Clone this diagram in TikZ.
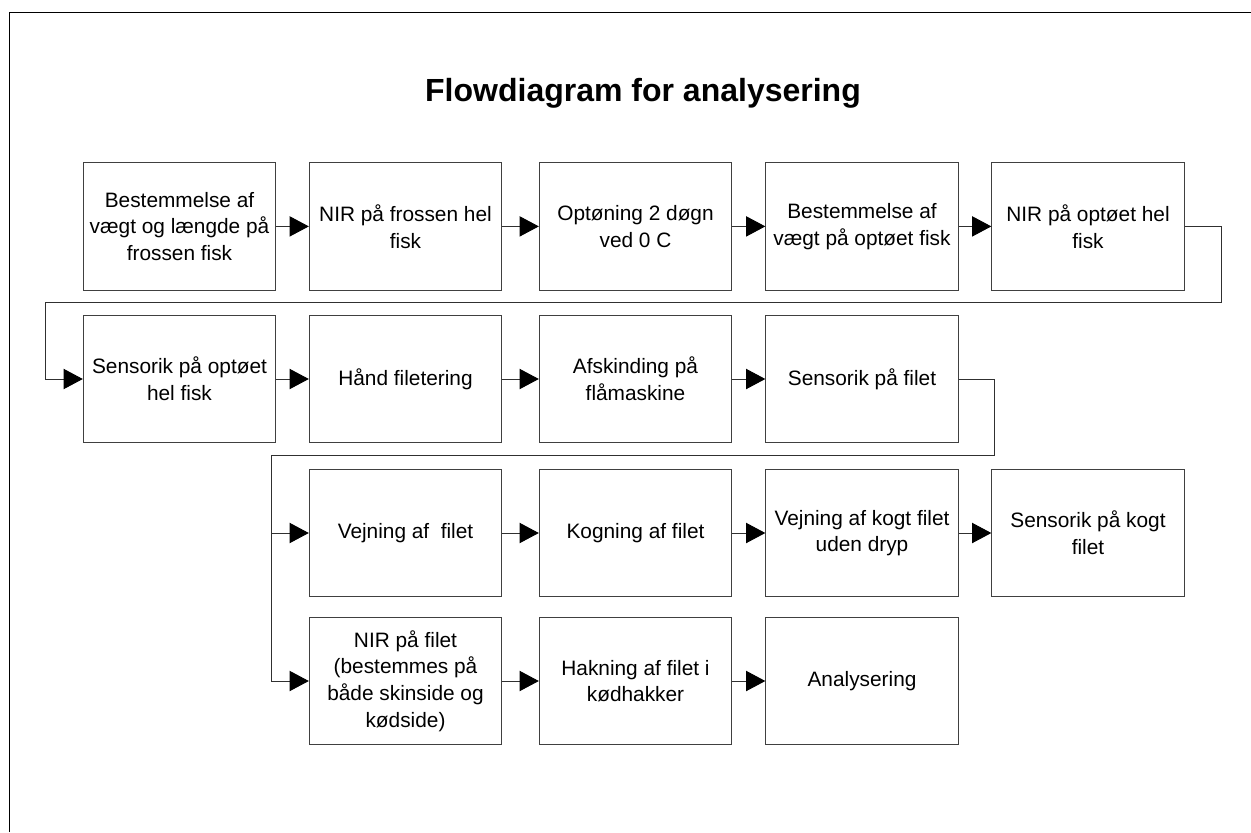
\documentclass[tikz,border=0pt]{standalone}
\usepackage{fontspec}
\setmainfont{Liberation Sans}
\usepackage{xcolor}
\usepackage{tikz}
\usetikzlibrary{arrows.meta}
\definecolor{ink}{HTML}{000000}
\definecolor{edge}{HTML}{404040}
\definecolor{wire}{HTML}{303030}
\tikzset{
  proc/.style={draw=edge, line width=0.6pt, minimum width=115.4pt, minimum height=76.5pt,
    inner sep=0pt, align=center, text=ink, font=\fontsize{12.5}{16}\selectfont},
  conn/.style={draw=wire, line width=0.6pt, -{Triangle[length=11.6pt,width=12.2pt,color=ink]}},
  frame/.style={draw=ink, line width=0.9pt},
  ttl/.style={text=ink, font=\fontsize{19.2}{23}\selectfont\bfseries},
}
\begin{document}
\begin{tikzpicture}[x=0.6pt, y=-0.6pt]
  \useasboundingbox (0,0) rectangle (1251,832);
  \def\cA{179.5}
  \def\cB{405.5}
  \def\cC{635.5}
  \def\cD{862}
  \def\cE{1088}
  \def\rA{226.4}
  \def\rB{379}
  \def\rC{533}
  \def\rD{681}
  \draw[frame] (9.5,832) -- (9.5,12.5) -- (1251,12.5);
  \node[ttl, anchor=base] (title) at (643,101.5) {Flowdiagram for analysering};
  % first row
  \node[proc] (s1) at (\cA,\rA) {Bestemmelse af\\vægt og længde på\\frossen fisk};
  \node[proc] (s2) at (\cB,\rA) {NIR på frossen hel\\fisk};
  \node[proc] (s3) at (\cC,\rA) {Optøning 2 døgn\\ved 0 C};
  \node[proc] (s4) at (\cD,\rA) {Bestemmelse af\\vægt på optøet fisk};
  \node[proc] (s5) at (\cE,\rA) {NIR på optøet hel\\fisk};
  % second row
  \node[proc] (s6) at (\cA,\rB) {Sensorik på optøet\\hel fisk};
  \node[proc] (s7) at (\cB,\rB) {Hånd filetering};
  \node[proc] (s8) at (\cC,\rB) {Afskinding på\\flåmaskine};
  \node[proc] (s9) at (\cD,\rB) {Sensorik på filet};
  % third row
  \node[proc] (s10) at (\cB,\rC) {Vejning af\ \ filet};
  \node[proc] (s11) at (\cC,\rC) {Kogning af filet};
  \node[proc] (s12) at (\cD,\rC) {Vejning af kogt filet\\uden dryp};
  \node[proc] (s13) at (\cE,\rC) {Sensorik på kogt\\filet};
  % fourth row
  \node[proc] (s14) at (\cB,\rD) {NIR på filet\\(bestemmes på\\både skinside og\\kødside)};
  \node[proc] (s15) at (\cC,\rD) {Hakning af filet i\\kødhakker};
  \node[proc] (s16) at (\cD,\rD) {Analysering};
  \coordinate (ta) at (1221,302.7);
  \coordinate (tb) at (45.5,302.7);
  \coordinate (ua) at (994.3,455.5);
  \coordinate (ub) at (271,455.5);
  \draw[conn] (s1) -- (s2);
  \draw[conn] (s2) -- (s3);
  \draw[conn] (s3) -- (s4);
  \draw[conn] (s4) -- (s5);
  \draw[conn] (s5.east) -| (ta) -- (tb) |- (s6.west);
  \draw[conn] (s6) -- (s7);
  \draw[conn] (s7) -- (s8);
  \draw[conn] (s8) -- (s9);
  \draw[conn] (s9.east) -| (ua) -- (ub) |- (s10.west);
  \draw[conn] (ub |- s10.west) |- (s14.west);
  \draw[conn] (s10) -- (s11);
  \draw[conn] (s11) -- (s12);
  \draw[conn] (s12) -- (s13);
  \draw[conn] (s14) -- (s15);
  \draw[conn] (s15) -- (s16);
\end{tikzpicture}
\end{document}
